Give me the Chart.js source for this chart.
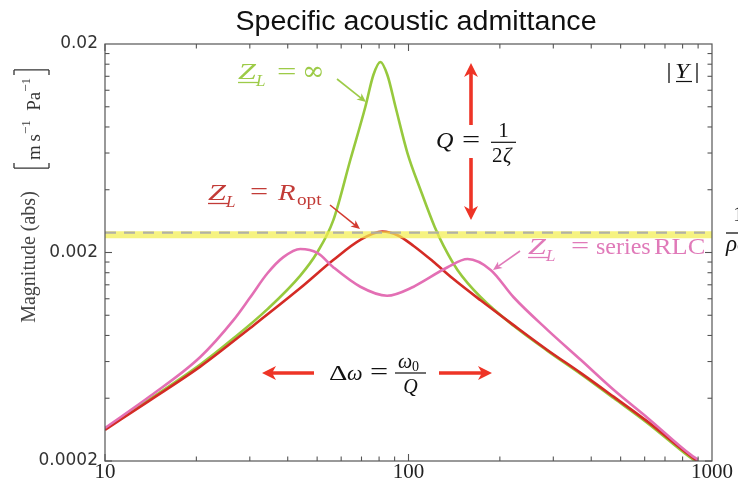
<!DOCTYPE html>
<html>
<head>
<meta charset="utf-8">
<script src="https://cdn.jsdelivr.net/npm/chart.js@4.4.1/dist/chart.umd.min.js"></script>
<style>
  html, body { margin: 0; padding: 0; background: #fff; }
  canvas { display: block; }
</style>
</head>
<body>
<canvas id="admittanceChart" width="738" height="484"></canvas>
<script>
const xTicks = [10, 100, 1000];
const xTickLabels = ['10', '100', '1000'];
const yTicks = [0.0002, 0.002, 0.02];
const yTickLabels = ['0.0002', '0.002', '0.02'];

// Z_L = infinity (green)
const freqInf = [10, 14.1, 20.6, 26.5, 34.3, 44, 50, 56.5, 64.4, 72.1, 76.6, 80.8, 85.2, 90.6, 99.2, 109.5, 122, 130.5, 145, 173, 222, 287, 370, 475, 615, 833, 900];
const magInf = [0.000285, 0.000397, 0.00058, 0.000775, 0.00107, 0.00155, 0.002, 0.00285, 0.0056, 0.0100, 0.0142, 0.0164, 0.0142, 0.0100, 0.0060, 0.0040, 0.00265, 0.00215, 0.00165, 0.00122, 0.00089, 0.000675, 0.000522, 0.0004, 0.000303, 0.000212, 0.000195];

// Z_L = R_opt (red)
const freqOpt = [10, 14.1, 20.6, 30.1, 44, 56.5, 69.4, 82, 92, 104, 120, 140, 172.8, 222, 287.5, 370, 475, 615, 833, 900];
const magOpt = [0.000282, 0.000392, 0.000567, 0.000869, 0.00135, 0.00184, 0.0023, 0.00252, 0.00242, 0.00215, 0.00182, 0.0015, 0.00118, 0.000897, 0.00068, 0.000528, 0.000406, 0.000308, 0.000216, 0.000198];

// Z_L = series RLC (pink)
const freqRlc = [10, 14.1, 20.6, 26.5, 30.1, 34.3, 38.7, 44, 50.1, 56.5, 69.4, 85, 104, 109.5, 134.5, 156.6, 186.5, 222, 287.5, 370, 475, 615, 852, 900];
const magRlc = [0.000288, 0.00041, 0.000631, 0.000948, 0.00122, 0.00159, 0.0019, 0.00208, 0.00199, 0.0017, 0.00137, 0.00124, 0.00137, 0.00143, 0.0017, 0.00186, 0.00165, 0.00122, 0.000849, 0.00061, 0.000438, 0.000321, 0.000214, 0.000203];

// 1/(rho c) reference level
const refFreq = [10, 1000];
const refBand = [0.00243, 0.00243];
const refDash = [0.00249, 0.00249];

const SERIF = '"Liberation Serif", "Times New Roman", serif';

function pts(xs, ys) {
    return xs.map((f, i) => ({ x: f, y: ys[i] }));
}

function put(ctx, s, x, y, font, color, sx, align) {
    ctx.save();
    ctx.font = font;
    ctx.fillStyle = color;
    ctx.textAlign = align || 'left';
    ctx.textBaseline = 'alphabetic';
    ctx.translate(x, y);
    ctx.scale(sx || 1, 1);
    ctx.fillText(s, 0, 0);
    ctx.restore();
}

function seg(ctx, x1, y1, x2, y2, color, w) {
    ctx.save();
    ctx.strokeStyle = color;
    ctx.lineWidth = w;
    ctx.beginPath();
    ctx.moveTo(x1, y1);
    ctx.lineTo(x2, y2);
    ctx.stroke();
    ctx.restore();
}

function arrow(ctx, x1, y1, x2, y2, color, w, hl, hw) {
    const a = Math.atan2(y2 - y1, x2 - x1);
    seg(ctx, x1, y1, x2 - Math.cos(a) * hl * 0.7, y2 - Math.sin(a) * hl * 0.7, color, w);
    ctx.save();
    ctx.fillStyle = color;
    ctx.translate(x2, y2);
    ctx.rotate(a);
    ctx.beginPath();
    ctx.moveTo(0, 0);
    ctx.lineTo(-hl, -hw);
    ctx.lineTo(-hl * 0.72, 0);
    ctx.lineTo(-hl, hw);
    ctx.closePath();
    ctx.fill();
    ctx.restore();
}

const overlay = {
    id: 'overlay',
    afterDraw(chart) {
        const { ctx, chartArea: a, scales: { x, y } } = chart;

        // frame and inward ticks
        ctx.save();
        ctx.strokeStyle = '#555';
        ctx.lineWidth = 1.2;
        ctx.strokeRect(a.left, a.top, a.right - a.left, a.bottom - a.top);
        ctx.restore();
        for (const d of [10, 100]) {
            for (let k = 1; k <= 9; k++) {
                const px = x.getPixelForValue(d * k);
                const len = k === 1 ? 7 : 4.5;
                seg(ctx, px, a.bottom, px, a.bottom - len, '#555', 1.1);
                seg(ctx, px, a.top, px, a.top + len, '#555', 1.1);
            }
        }
        for (const d of [0.0002, 0.002]) {
            for (let k = 1; k <= 9; k++) {
                const py = y.getPixelForValue(d * k);
                const len = k === 1 ? 7 : 4.5;
                seg(ctx, a.left, py, a.left + len, py, '#555', 1.1);
                seg(ctx, a.right, py, a.right - len, py, '#555', 1.1);
            }
        }

        // title
        put(ctx, 'Specific acoustic admittance', 416, 30, '27px "Liberation Sans", Arial, sans-serif', '#111', 1.06, 'center');

        // y axis title
        ctx.save();
        ctx.translate(35, 257);
        ctx.rotate(-Math.PI / 2);
        put(ctx, 'Magnitude (abs)', 0, 0, '20px ' + SERIF, '#444', 1, 'center');
        ctx.restore();

        ctx.save();
        ctx.translate(40, 119);
        ctx.rotate(-Math.PI / 2);
        const parts = [['m\u2009s', 19, 0], ['\u22121', 13, -10], ['\u2002Pa', 19, 0], ['\u22121', 13, -10]];
        let total = 0;
        for (const p of parts) { ctx.font = p[1] + 'px ' + SERIF; total += ctx.measureText(p[0]).width; }
        let u = -total / 2;
        for (const p of parts) {
            const f = p[1] + 'px ' + SERIF;
            put(ctx, p[0], u, p[2], f, '#333');
            ctx.font = f;
            u += ctx.measureText(p[0]).width;
        }
        const bl = -total / 2 - 8, br = total / 2 + 8;
        seg(ctx, bl, -26, bl, 9, '#333', 1.3);
        seg(ctx, bl, -26, bl + 5, -26, '#333', 1.3);
        seg(ctx, bl, 9, bl + 5, 9, '#333', 1.3);
        seg(ctx, br, -26, br, 9, '#333', 1.3);
        seg(ctx, br, -26, br - 5, -26, '#333', 1.3);
        seg(ctx, br, 9, br - 5, 9, '#333', 1.3);
        ctx.restore();

        // Z_L = infinity
        const G = '#9dcb48';
        put(ctx, 'Z', 238, 79, 'italic 23px ' + SERIF, G, 1.4);
        seg(ctx, 238, 82.5, 258, 82.5, G, 1.3);
        put(ctx, 'L', 256, 86, 'italic 17px ' + SERIF, G);
        put(ctx, '=', 277, 79, '23px ' + SERIF, G, 1.5);
        put(ctx, '\u221E', 302, 80, '27px "DejaVu Serif", serif', G);
        arrow(ctx, 337, 79, 366, 102, G, 1.6, 9, 4);

        // Z_L = R_opt
        const R = '#c23b37';
        put(ctx, 'Z', 208, 200, 'italic 23px ' + SERIF, R, 1.4);
        seg(ctx, 208, 203.5, 228, 203.5, R, 1.3);
        put(ctx, 'L', 226, 207, 'italic 17px ' + SERIF, R);
        put(ctx, '=', 250, 199, '23px ' + SERIF, R, 1.4);
        put(ctx, 'R', 278, 200, 'italic 23px ' + SERIF, R, 1.25);
        put(ctx, 'opt', 297, 205, '16px ' + SERIF, R, 1.2);
        arrow(ctx, 330, 205, 360, 229, '#d33a30', 1.6, 9, 4);

        // Z_L = series RLC
        const P = '#e07ab9';
        put(ctx, 'Z', 528, 254, 'italic 23px ' + SERIF, P, 1.4);
        seg(ctx, 528, 257.5, 548, 257.5, P, 1.3);
        put(ctx, 'L', 546, 261, 'italic 17px ' + SERIF, P);
        put(ctx, '=', 571, 253, '23px ' + SERIF, P, 1.4);
        put(ctx, 'series', 596, 254, '24px ' + SERIF, P);
        put(ctx, 'RLC', 654, 254, '24px ' + SERIF, P, 1.1);
        arrow(ctx, 520, 251, 493, 270, P, 1.6, 9, 4);

        // Q = 1/(2 zeta)
        const K = '#111';
        const A = '#ee3426';
        put(ctx, 'Q', 436, 148, 'italic 23px ' + SERIF, K, 1.05);
        put(ctx, '=', 462, 147, '23px ' + SERIF, K, 1.4);
        put(ctx, '1', 503.5, 137, '21px ' + SERIF, K, 1, 'center');
        seg(ctx, 491, 142.3, 516, 142.3, K, 1.2);
        put(ctx, '2', 492, 162, '21px ' + SERIF, K);
        put(ctx, '\u03B6', 503, 162, 'italic 21px ' + SERIF, K);
        arrow(ctx, 471, 125, 471, 63, A, 3.6, 14, 7);
        arrow(ctx, 471, 158, 471, 220, A, 3.6, 14, 7);

        // |Y|
        seg(ctx, 669, 63, 669, 83, K, 1.3);
        put(ctx, 'Y', 675, 78, 'italic 22px ' + SERIF, K, 1.15);
        seg(ctx, 676, 81.5, 692, 81.5, K, 1.2);
        seg(ctx, 697, 63, 697, 83, K, 1.3);

        // Delta omega = omega0 / Q
        put(ctx, '\u0394', 329, 380, '22px ' + SERIF, K, 1.3);
        put(ctx, '\u03C9', 347, 380, 'italic 22px ' + SERIF, K);
        put(ctx, '=', 370, 379, '23px ' + SERIF, K, 1.4);
        put(ctx, '\u03C9', 398, 368, 'italic 20px ' + SERIF, K);
        put(ctx, '0', 412, 371, '14px ' + SERIF, K);
        seg(ctx, 395, 373, 426, 373, K, 1.2);
        put(ctx, 'Q', 410.5, 393, 'italic 20px ' + SERIF, K, 1, 'center');
        arrow(ctx, 314, 373, 262, 373, A, 3.6, 14, 7);
        arrow(ctx, 439, 373, 492, 373, A, 3.6, 14, 7);

        // 1/(rho c) at right edge
        put(ctx, '1', 733, 221, '22px ' + SERIF, K);
        seg(ctx, 726, 233, 745, 233, K, 1.3);
        put(ctx, '\u03C1c', 726, 251, 'italic 23px ' + SERIF, K);
    }
};

const ctx = document.getElementById('admittanceChart').getContext('2d');
const admittanceChart = new Chart(ctx, {
    type: 'line',
    data: {
        datasets: [{
            label: 'dash',
            data: pts(refFreq, refDash),
            borderColor: 'rgba(170, 170, 170, 0.9)',
            borderWidth: 2.4,
            borderDash: [11, 8]
        }, {
            label: 'band',
            data: pts(refFreq, refBand),
            borderColor: 'rgba(243, 238, 80, 0.72)',
            borderWidth: 7
        }, {
            label: 'series RLC',
            data: pts(freqRlc, magRlc),
            borderColor: '#e36fb4',
            borderWidth: 2.6,
            cubicInterpolationMode: 'monotone'
        }, {
            label: 'R_opt',
            data: pts(freqOpt, magOpt),
            borderColor: '#d42b25',
            borderWidth: 2.6,
            cubicInterpolationMode: 'monotone'
        }, {
            label: 'infinity',
            data: pts(freqInf, magInf),
            borderColor: '#97c93d',
            borderWidth: 2.6,
            cubicInterpolationMode: 'monotone'
        }]
    },
    options: {
        responsive: false,
        animation: false,
        layout: { padding: { top: 44, right: 26, left: 0, bottom: 0 } },
        elements: { point: { radius: 0 }, line: { fill: false } },
        plugins: { legend: { display: false }, tooltip: { enabled: false }, title: { display: false } },
        scales: {
            x: {
                type: 'logarithmic',
                min: 10,
                max: 1000,
                afterBuildTicks: s => { s.ticks = xTicks.map(v => ({ value: v })); },
                afterFit: s => { s.height = 23; },
                grid: { display: false, drawTicks: false },
                border: { display: false },
                ticks: {
                    autoSkip: false,
                    maxRotation: 0,
                    padding: -1,
                    color: '#222',
                    font: { family: '"Liberation Serif"', size: 21 },
                    callback: (v, i) => xTickLabels[i]
                }
            },
            y: {
                type: 'logarithmic',
                min: 0.0002,
                max: 0.02,
                afterBuildTicks: s => { s.ticks = yTicks.map(v => ({ value: v })); },
                afterFit: s => { s.width = 105; },
                grid: { display: false, drawTicks: false },
                border: { display: false },
                ticks: {
                    autoSkip: false,
                    padding: 7,
                    color: '#333',
                    font: { family: '"DejaVu Sans"', size: 17 },
                    callback: (v, i) => yTickLabels[i]
                }
            }
        }
    },
    plugins: [overlay]
});
</script>
</body>
</html>
